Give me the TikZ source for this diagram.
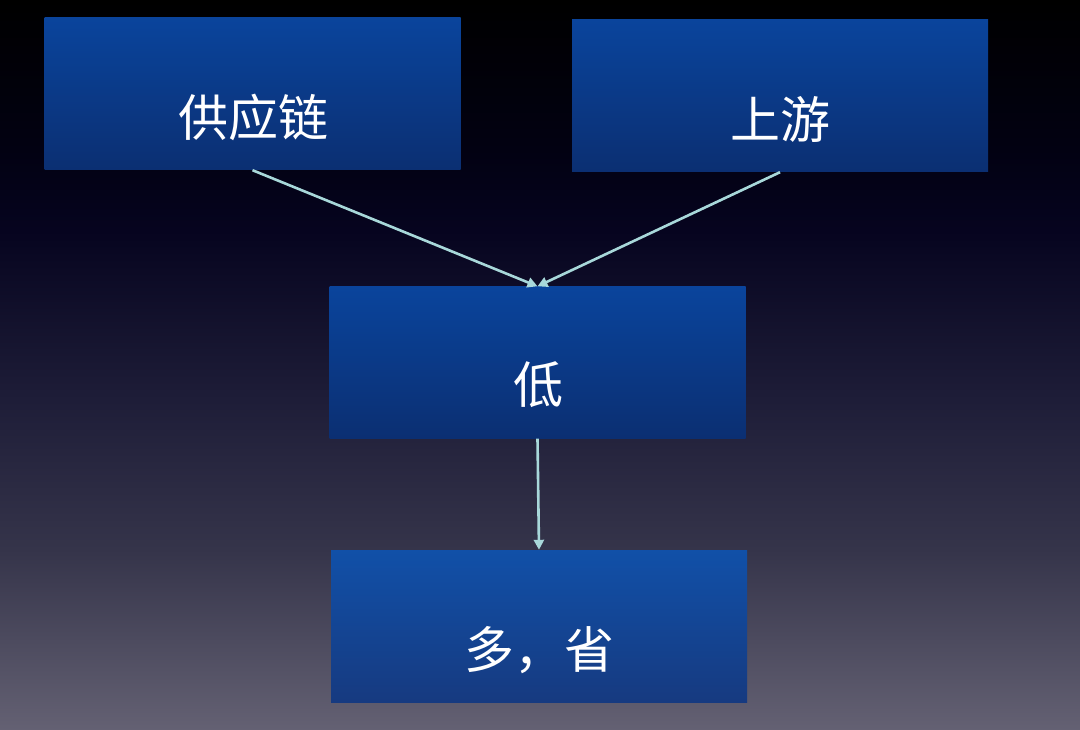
\documentclass[tikz,border=0pt]{standalone}
\usepackage{fontspec}
\newfontfamily\cjk{Noto Sans CJK SC}
\usetikzlibrary{arrows.meta}
\definecolor{bgA}{HTML}{646173}
\definecolor{bgB}{HTML}{35344A}
\definecolor{bgC}{HTML}{1E1D38}
\definecolor{bgD}{HTML}{06041F}
\definecolor{bgE}{HTML}{020112}
\definecolor{boxtop}{HTML}{0A449C}
\definecolor{boxbot}{HTML}{0B2F72}
\definecolor{boxtopL}{HTML}{1150A8}
\definecolor{boxbotL}{HTML}{163A80}
\definecolor{arrowc}{HTML}{A8D8DA}
\pgfdeclareverticalshading{bgshade}{100bp}{%
  color(0bp)=(bgA); color(25bp)=(bgA); color(37.35bp)=(bgB); color(47.6bp)=(bgC);
  color(59.25bp)=(bgD); color(64.75bp)=(bgE); color(75bp)=(black); color(100bp)=(black)}
\begin{document}
\begin{tikzpicture}[x=1pt,y=-1pt,
  box/.style={rectangle, minimum width=416pt, minimum height=152pt, inner sep=0pt,
    top color=boxtop, bottom color=boxbot, draw=none},
  boxL/.style={box, top color=boxtopL, bottom color=boxbotL},
  lbl/.style={text=white, font=\cjk\fontsize{50}{60}\selectfont, inner sep=0pt},
  conn/.style={draw=arrowc, line width=2.6pt, -{Triangle[length=10pt,width=10pt]}}]
\useasboundingbox (0,0) rectangle (1080,730);
\shade[shading=bgshade] (0,0) rectangle (1080,730);
\node[box]  (b1) at (252.5,94) {};
\node[box]  (b2) at (780,96) {};
\node[box]  (b3) at (537.5,362.5) {};
\node[boxL] (b4) at (539,626) {};
\node[lbl] (t1) at (253,117) {供应链};
\node[lbl] (t2) at (780,119) {上游};
\node[lbl] (t3) at (538,385) {低};
\node[lbl] (t4) at (539,650) {多，省};
\draw[conn] (b1.south) -- (b3.north);
\draw[conn] (b2.south) -- (b3.north);
\draw[conn] (b3.south) -- (b4.north);
\end{tikzpicture}
\end{document}
